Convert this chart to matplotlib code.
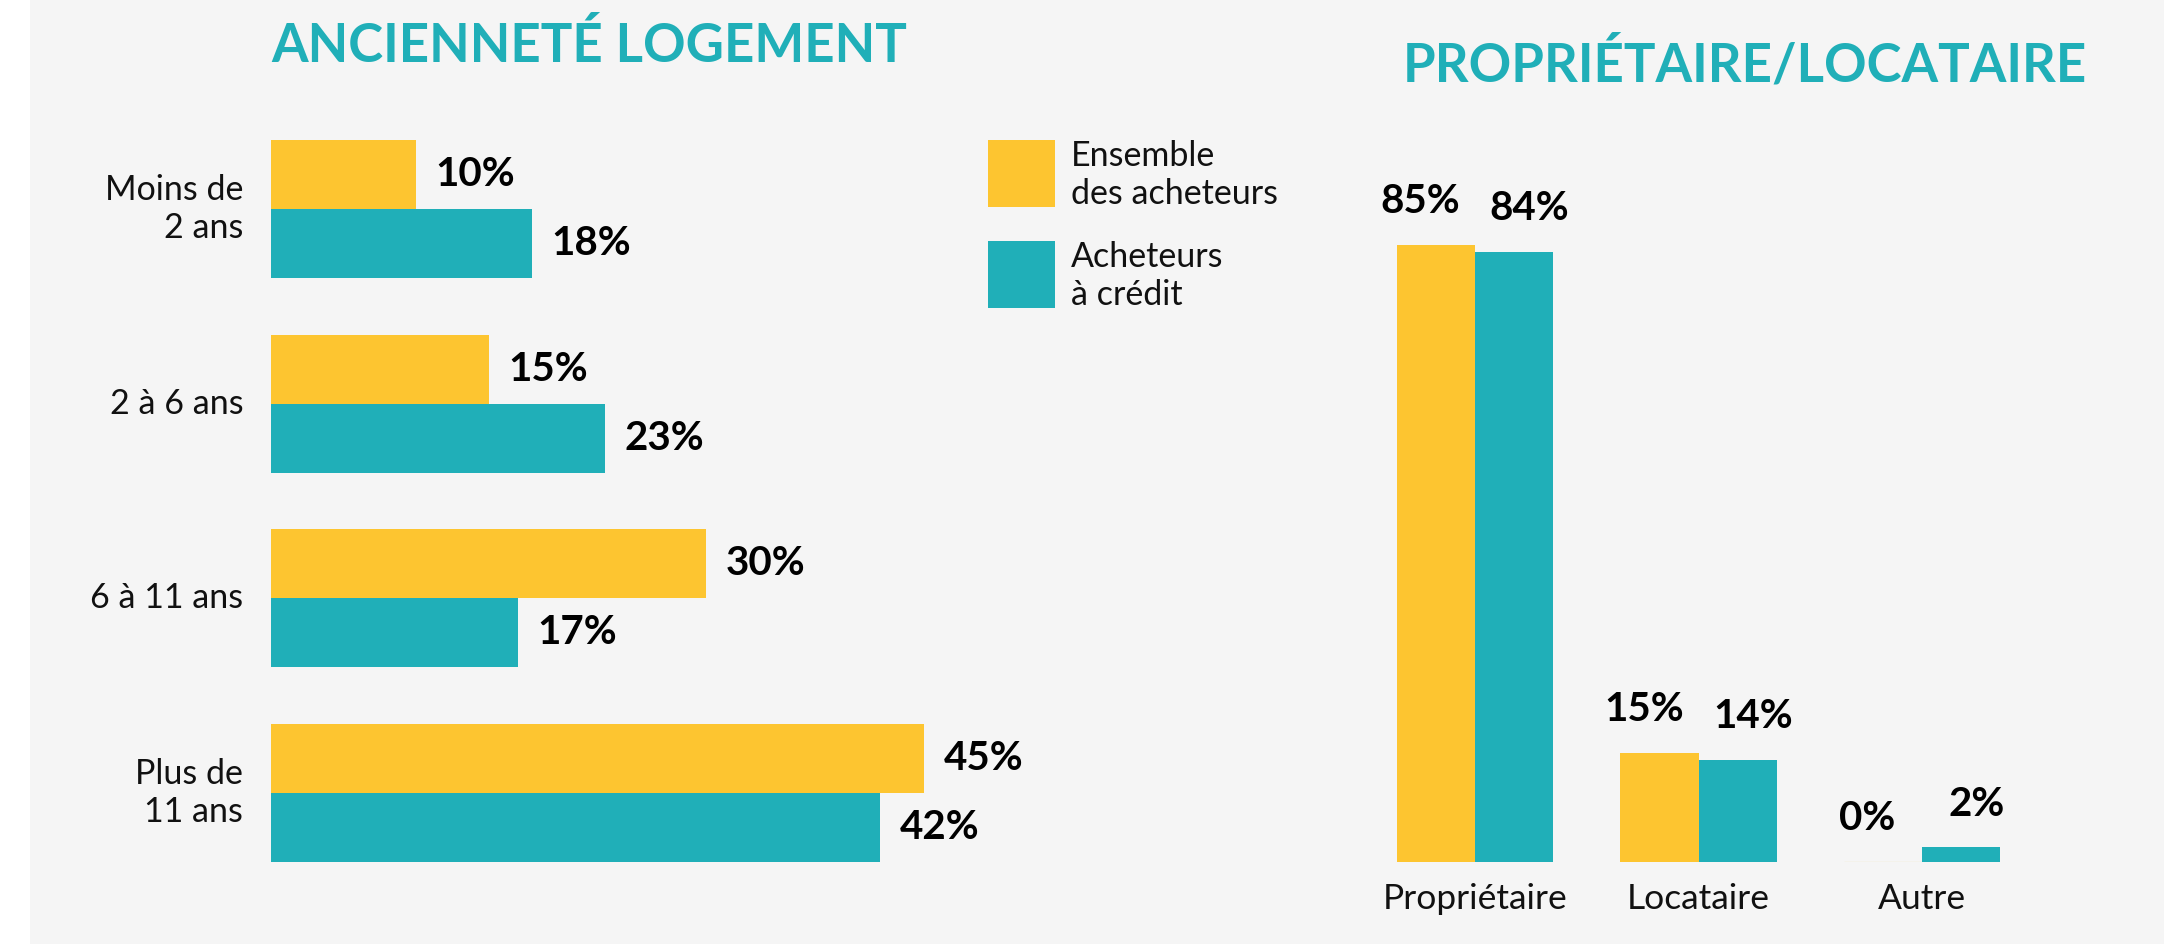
import matplotlib
matplotlib.use("Agg")
import matplotlib.pyplot as plt
from matplotlib.patches import Rectangle

plt.rcParams['font.family'] = ['Lato', 'DejaVu Sans']

# couleurs
JAUNE = "#FDC530"
BLEU = "#20AFB8"
FOND = "#F5F5F5"

series = ["Ensemble\ndes acheteurs", "Acheteurs\nà crédit"]

# ancienneté du logement (%)
anc_cats = ["Moins de\n2 ans", "2 à 6 ans", "6 à 11 ans", "Plus de\n11 ans"]
anc_ensemble = [10, 15, 30, 45]
anc_credit = [18, 23, 17, 42]

# statut d'occupation (%)
statut_cats = ["Propriétaire", "Locataire", "Autre"]
statut_ensemble = [85, 15, 0]
statut_credit = [84, 14, 2]

W, H = 2176, 944
fig = plt.figure(figsize=(W / 100, H / 100), dpi=100)
fig.patch.set_facecolor("white")
fig.add_artist(Rectangle((30 / W, 0), (2164 - 30) / W, 1, transform=fig.transFigure,
                         facecolor=FOND, edgecolor="none", zorder=0))


def px_box(x0, y0, x1, y1):
    # pixels (origine en haut à gauche) -> coordonnées figure
    return [x0 / W, 1 - y1 / H, (x1 - x0) / W, (y1 - y0) / H]


# --- barres horizontales : ancienneté ---
ax1 = fig.add_axes(px_box(271, 140, 1000, 862))
h = 0.354
pos = list(range(len(anc_cats)))
b1 = ax1.barh([p - h / 2 for p in pos], anc_ensemble, height=h, color=JAUNE)
b2 = ax1.barh([p + h / 2 for p in pos], anc_credit, height=h, color=BLEU)
ax1.set_xlim(0, 729 / 14.51)
ax1.set_ylim(len(anc_cats) - 1 + h, -h)
for bars in (b1, b2):
    for rect, v in zip(bars, bars.datavalues):
        ax1.annotate(f"{v:g}%", (rect.get_width(), rect.get_y() + rect.get_height() / 2),
                     xytext=(14, 0), textcoords="offset points", va="center", ha="left",
                     fontsize=29, fontweight="bold", color="black")
for p, lab in zip(pos, anc_cats):
    ax1.annotate(lab, (0, p), xytext=(-20, 0), textcoords="offset points",
                 ha="right", va="center", fontsize=24.5, linespacing=1.2, color="#111111")
ax1.axis("off")

# --- barres verticales : propriétaire / locataire ---
ax2 = fig.add_axes(px_box(1300, 200, 2100, 862))
w = 0.351
pos2 = list(range(len(statut_cats)))
c1 = ax2.bar([p - w / 2 for p in pos2], statut_ensemble, width=w, color=JAUNE)
c2 = ax2.bar([p + w / 2 for p in pos2], statut_credit, width=w, color=BLEU)
c1[2].set_edgecolor("#F3E6C4")
c1[2].set_linewidth(1)
ax2.set_xlim((1300 - 1475) / 223.5, (2100 - 1475) / 223.5)
ax2.set_ylim(0, 662 / 7.26)
for bars, dx in ((c1, -11), (c2, 11)):
    for rect, v in zip(bars, bars.datavalues):
        ax2.annotate(f"{v:g}%", (rect.get_x() + rect.get_width() / 2, rect.get_height()),
                     xytext=(dx, 23), textcoords="offset points", ha="center", va="baseline",
                     fontsize=29, fontweight="bold", color="black")
for p, lab in zip(pos2, statut_cats):
    ax2.annotate(lab, (p, 0), xytext=(0, -15), textcoords="offset points",
                 ha="center", va="top", fontsize=25.5, color="#111111")
ax2.axis("off")

# --- titres ---
fig.text(271 / W, 1 - 62 / H, "ANCIENNETÉ LOGEMENT", fontsize=38, fontweight="bold",
         color=BLEU, ha="left", va="baseline")
fig.text(1403 / W, 1 - 82 / H, "PROPRIÉTAIRE/LOCATAIRE", fontsize=38, fontweight="bold",
         color=BLEU, ha="left", va="baseline")

# --- légende ---
for i, (nom, col) in enumerate(zip(series, (JAUNE, BLEU))):
    y0 = 140 + i * 101
    fig.add_artist(Rectangle((988 / W, 1 - (y0 + 67) / H), 67 / W, 67 / H,
                             transform=fig.transFigure, facecolor=col, edgecolor="none"))
    fig.text(1071 / W, 1 - (y0 + 35) / H, nom, fontsize=24.5, ha="left", va="center",
             linespacing=1.2, color="#111111")

fig.savefig("out.png", dpi=100, facecolor=fig.get_facecolor())
